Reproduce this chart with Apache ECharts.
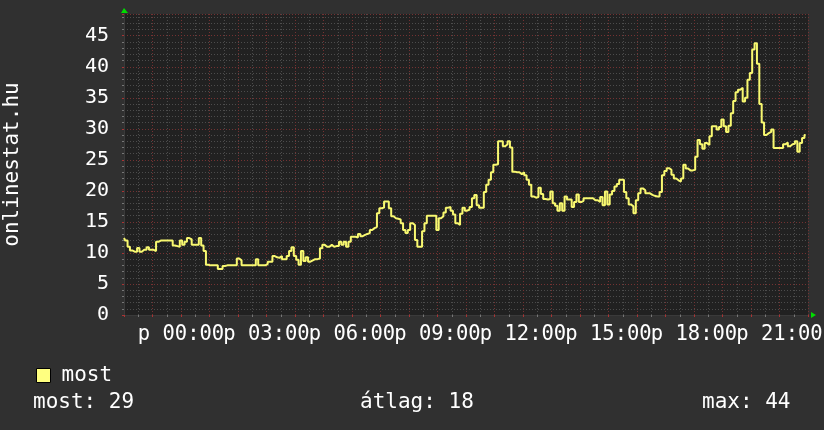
<!DOCTYPE html>
<html lang="hu">

<head>
  <meta charset="UTF-8">
  <title>onlinestat.hu</title>
  <script src="https://cdn.jsdelivr.net/npm/echarts@6/dist/echarts.min.js"></script>
  <style>
    * {
      padding: 0;
      margin: 0;
    }

    body {
      background: #303030;
    }

    #box {
      width: 824px;
      height: 430px;
    }
  </style>
</head>

<body>
  <div id="box"></div>
  <script>
    // 24 óra, 5 percenként, 22:00-tól
    var startHour = 22
    var stepMinutes = 5
    var labelHours = [0, 3, 6, 9, 12, 15, 18, 21]
    var most = [
      12.4, 12, 11, 10.4, 10.2, 10.2, 10.8, 10.2, 10.5, 10.5,
      10.9, 10.5, 10.5, 10.3, 11.8, 12, 12, 12, 12, 12,
      12, 11.2, 11.1, 11, 12, 11.3, 11.8, 12.4, 12.2, 11.3,
      11.3, 11.3, 12.4, 11.2, 10.3, 8.1, 8, 8, 8, 8,
      7.4, 7.4, 7.9, 8, 8, 8, 8, 8, 9.1, 8.8,
      8, 8, 8, 8, 8, 8, 9, 8, 8, 8,
      8.2, 8.6, 8.6, 9.5, 9.3, 9.2, 9.5, 9, 9, 9.5,
      10.3, 10.9, 9.5, 8.9, 8.1, 10.3, 8.7, 9.3, 8.6, 8.8,
      9, 9, 9.1, 10.75, 11.3, 11, 11, 11.3, 11, 11.1,
      11.1, 11.8, 11.3, 11.8, 11, 11.8, 12.6, 12.6, 12.5, 13.06,
      12.7, 12.9, 13.06, 13.2, 13.7, 14, 14.2, 16.4, 17.2, 17.3,
      18.3, 18.3, 17.2, 15.9, 15.6, 15.5, 15.4, 14.8, 13.7, 13.2,
      13.7, 14.8, 14.5, 12.1, 11, 11, 13.5, 14.8, 16, 16,
      16, 16, 13.7, 15.6, 15.9, 16.5, 17.3, 17.4, 16.8, 16.2,
      14.8, 14.5, 16.3, 17.3, 16.8, 17, 17.4, 18.8, 19.35, 17.7,
      17.3, 17.3, 19.8, 21, 21.8, 23, 24.2, 24.3, 28, 28,
      27.2, 27.5, 28, 27, 23.1, 23, 23, 22.7, 23, 22.5,
      21.8, 21, 19.1, 18.9, 19, 20.5, 19.5, 18.7, 18.6, 18.7,
      19.9, 18, 17.6, 16.8, 18, 16.8, 19.1, 18.6, 18.6, 17.4,
      18.2, 19.4, 18.2, 18.4, 18.8, 18.8, 18.8, 18.8, 18.5, 18.5,
      18.2, 19, 17.7, 19.9, 17.8, 19.4, 20, 20.7, 21.1, 21.8,
      21.8, 19.8, 18.8, 17.8, 17.5, 16.4, 18.5, 19.6, 20.4, 20.1,
      19.6, 19.6, 19.35, 19.2, 19.1, 19.1, 19.8, 22.5, 23.2, 23.66,
      23.4, 22.6, 22, 21.7, 21.5, 22, 24.2, 23.6, 23.3, 23.3,
      23.4, 25.5, 28.2, 27.5, 26.8, 27.7, 27.4, 28.8, 30.4, 30.4,
      29.9, 30.3, 31.5, 30.4, 29.5, 30.5, 32.5, 34.5, 35.9, 36.3,
      36.6, 34.4, 35, 37.9, 39, 42.8, 43.8, 40.5, 34, 31,
      29, 29.3, 29.5, 29.9, 26.9, 26.9, 26.9, 26.9, 27.5, 27.8,
      27.2, 27.5, 27.6, 28, 26.3, 27.7, 28.5, 29
    ]
    var stats = ['most: 29', 'átlag: 18', 'max: 44']

    var points = []
    for (let i = 0; i < most.length; i++) {
      points.push([i * stepMinutes / 60, most[i]])
    }

    var font = '"DejaVu Sans Mono", monospace'
    var gridGrey = '#4c4c4c'
    var gridRed = '#743232'

    var mCharts = echarts.init(document.getElementById('box'))
    var option = {
      backgroundColor: '#303030',
      animation: false,
      grid: {
        left: 124,
        right: 16,
        top: 14,
        bottom: 115,
        outerBoundsMode: 'none',
        containLabel: false,
        show: true,
        backgroundColor: '#212121',
        borderWidth: 0
      },
      legend: {
        left: 31,
        top: 360,
        icon: 'rect',
        itemWidth: 14,
        itemHeight: 14,
        itemStyle: { color: '#ffff80', borderColor: '#000', borderWidth: 1 },
        textStyle: { color: '#fff', fontSize: 21, fontFamily: font, padding: [0, 0, 0, 6] },
        data: ['most']
      },
      xAxis: {
        type: 'value',
        min: 0,
        max: 24,
        interval: 1,
        axisLine: { lineStyle: { color: '#3a3a3a' } },
        axisTick: { show: true, length: 2, lineStyle: { color: '#a33' } },
        minorTick: { show: true, splitNumber: 2, length: 2, lineStyle: { color: '#777' } },
        splitLine: { show: true, lineStyle: { color: gridRed, type: [1, 2] } },
        minorSplitLine: { show: true, lineStyle: { color: gridGrey, type: [1, 2] } },
        axisLabel: {
          color: '#fff',
          fontSize: 20.5,
          fontFamily: font,
          margin: 9,
          showMinLabel: true,
          showMaxLabel: true,
          formatter: function (v) {
            var h = (startHour + v) % 24
            if (labelHours.indexOf(h) < 0) return ''
            return 'p ' + (h < 10 ? '0' + h : h) + ':00'
          }
        }
      },
      yAxis: {
        type: 'value',
        min: 0,
        max: 48.5,
        interval: 5,
        name: 'onlinestat.hu',
        nameLocation: 'middle',
        nameRotate: 90,
        nameGap: 101,
        nameTextStyle: { color: '#fff', fontSize: 21, fontFamily: font },
        axisLine: { show: true, lineStyle: { color: '#3a3a3a' } },
        axisTick: { show: true, length: 2, lineStyle: { color: '#a33' } },
        minorTick: { show: true, splitNumber: 5, length: 2, lineStyle: { color: '#777' } },
        splitLine: { show: true, lineStyle: { color: gridRed, type: [1, 2] } },
        minorSplitLine: { show: true, lineStyle: { color: gridGrey, type: [1, 2] } },
        axisLabel: { color: '#fff', fontSize: 20, fontFamily: font, margin: 15, showMaxLabel: false }
      },
      series: [{
        name: 'most',
        type: 'line',
        step: 'middle',
        data: points,
        symbol: 'none',
        color: '#ffff80',
        lineStyle: { color: '#f8f870', width: 2 }
      }]
    }
    mCharts.setOption(option)

    // zöld nyilak a tengelyek végén + alsó statisztika
    var o = mCharts.convertToPixel({ gridIndex: 0 }, [0, 0])
    var t = mCharts.convertToPixel({ gridIndex: 0 }, [0, 48.5])
    var r = mCharts.convertToPixel({ gridIndex: 0 }, [24, 0])
    var statX = [33, 360, 702]
    var graphics = [
      { type: 'polygon', shape: { points: [[o[0], t[1] - 6], [o[0] - 3, t[1] - 1], [o[0] + 4, t[1] - 1]] }, style: { fill: '#00dd00' } },
      { type: 'polygon', shape: { points: [[r[0] + 3, o[1] - 3], [r[0] + 8, o[1]], [r[0] + 3, o[1] + 3]] }, style: { fill: '#00dd00' } }
    ]
    for (let i = 0; i < stats.length; i++) {
      graphics.push({
        type: 'text', x: statX[i], y: 392,
        style: { text: stats[i], fill: '#fff', font: '21px ' + font }
      })
    }
    mCharts.setOption({ graphic: graphics })
  </script>
</body>

</html>
